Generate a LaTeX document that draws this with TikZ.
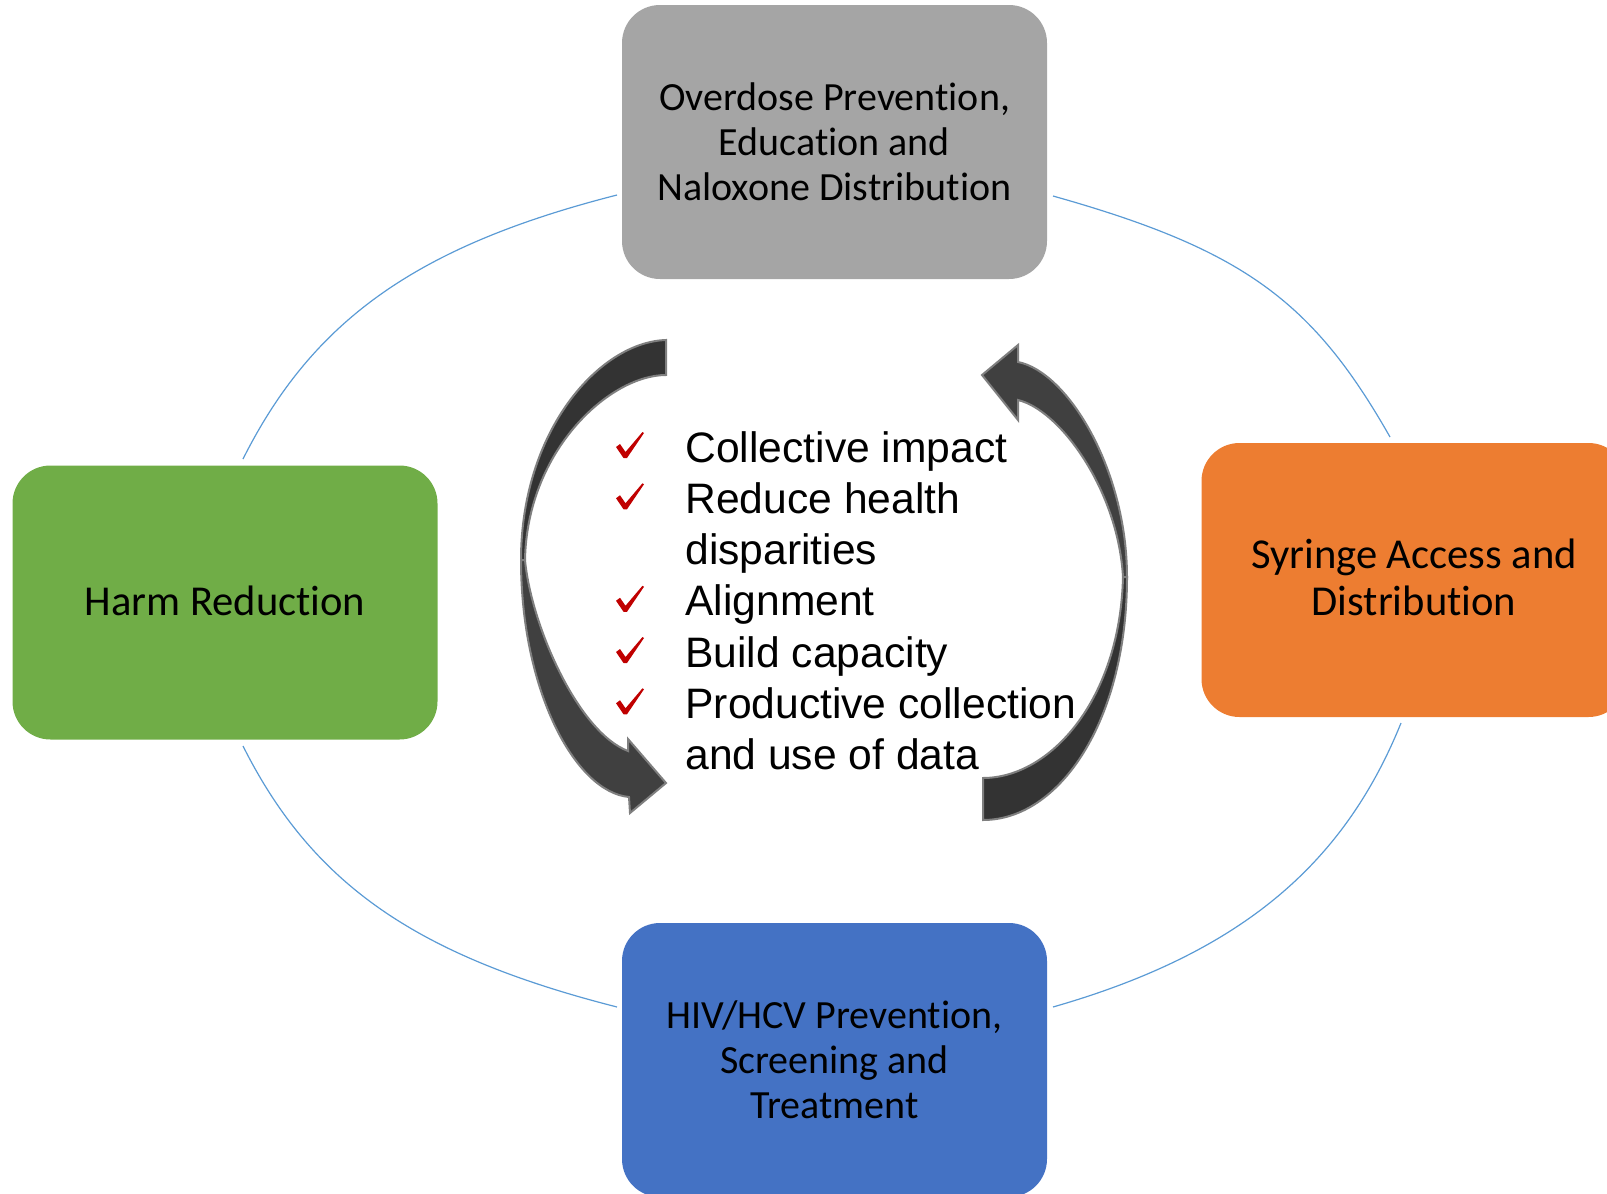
\documentclass[tikz,border=0pt]{standalone}
\usepackage{fontspec}
\setmainfont{Carlito}[Ligatures=NoCommon]
\newfontfamily\arialf{Liberation Sans}
\newfontfamily\calf{Carlito}[Ligatures=NoCommon]
\definecolor{cgray}{HTML}{A5A5A5}
\definecolor{cgreen}{HTML}{70AD47}
\definecolor{corange}{HTML}{ED7D31}
\definecolor{cblue}{HTML}{4472C4}
\definecolor{carc}{HTML}{5B9BD5}
\definecolor{cred}{HTML}{C00000}
\definecolor{adark}{HTML}{333333}
\definecolor{amid}{HTML}{404040}
\definecolor{aline}{HTML}{7F7F7F}
\begin{document}
\begin{tikzpicture}[x=0.5pt,y=-0.5pt,
  box/.style={rounded corners=19pt, minimum width=212.5pt, minimum height=137pt,
    inner sep=0pt, align=center},
  boxa/.style={box, font=\calf\fontsize{20pt}{22.5pt}\selectfont},
  boxb/.style={box, font=\calf\fontsize{21.3pt}{23.5pt}\selectfont},
  item/.style={anchor=base west, inner sep=0pt, font=\arialf\fontsize{21.3pt}{25pt}\selectfont},
  arcline/.style={draw=carc, line width=0.6pt},
  arrowpart/.style={draw=aline, line width=1pt, line join=miter},
  chk/.pic={\fill[cred] (0,-11) -- (4,-14) -- (9.5,-6) -- (26.5,-26) -- (28,-25) -- (11,0) -- (7.5,0) -- cycle;}
]
\path[use as bounding box] (0,0) rectangle (1607,1194);
\clip (0,0) rectangle (1607,1194);

% boxes
\node[boxa, fill=cgray]   (top)    at (834.5,142)  {Overdose Prevention,\\Education and\\Naloxone Distribution};
\node[boxb, fill=cgreen, text depth=1.5pt]  (left)   at (225,602.5)  {Harm Reduction};
\node[boxb, fill=corange] (right)  at (1414,580)   {Syringe Access and\\Distribution\rule[-2.5pt]{0pt}{1pt}};
\node[boxa, fill=cblue]   (bottom) at (834.5,1060) {HIV/HCV Prevention,\\Screening and\\Treatment};

% ring arcs
\coordinate (tl1) at (617,195);  \coordinate (tl2) at (243,459);
\coordinate (tr1) at (1053,196); \coordinate (tr2) at (1390,437);
\coordinate (bl1) at (243,746);  \coordinate (bl2) at (617,1007);
\coordinate (br1) at (1401,723); \coordinate (br2) at (1053,1007);
\draw[arcline] (tl1) .. controls (417,246) and (312.8,320) .. (tl2);
\draw[arcline] (tr1) .. controls (1243,249.5) and (1312.6,300.8) .. (tr2);
\draw[arcline] (bl1) .. controls (312.8,885) and (417,956) .. (bl2);
\draw[arcline] (br1) .. controls (1343.9,864.2) and (1241.2,953) .. (br2);

% left curved arrow
\path[arrowpart, fill=adark] (666,340) .. controls (600,342) and (521,430) .. (521,560)
  -- (525,560) .. controls (527,450) and (610,375) .. (666,375) -- cycle;
\path[arrowpart, fill=amid] (521,560) .. controls (521,690) and (575,792) .. (629,797)
  -- (630,813) -- (666,783) -- (628,739) -- (628,751)
  .. controls (578,732) and (531,625) .. (525,560) -- cycle;

% right curved arrow
\path[arrowpart, fill=amid] (1127,577) .. controls (1127,470) and (1068,372) .. (1018,362)
  -- (1018,345) -- (982,375) -- (1018,420) -- (1018,400)
  .. controls (1060,410) and (1118,490) .. (1123,577) -- cycle;
\path[arrowpart, fill=adark] (1127,577) .. controls (1127,720) and (1060,820) .. (983,820)
  -- (983,778) .. controls (1050,778) and (1120,700) .. (1123,577) -- cycle;

% checklist
\node[item] (l1) at (685,462)    {Collective impact};
\node[item] (l2) at (685,513.25) {Reduce health};
\node[item] (l3) at (685,564.5)  {disparities};
\node[item] (l4) at (685,615.75) {Alignment};
\node[item] (l5) at (685,667)    {Build capacity};
\node[item] (l6) at (685,718.25) {Productive collection};
\node[item] (l7) at (685,769.5)  {and use of data};
\pic at (616,458)    {chk};
\pic at (616,509.25) {chk};
\pic at (616,611.75) {chk};
\pic at (616,663)    {chk};
\pic at (616,714.25) {chk};
\end{tikzpicture}
\end{document}
